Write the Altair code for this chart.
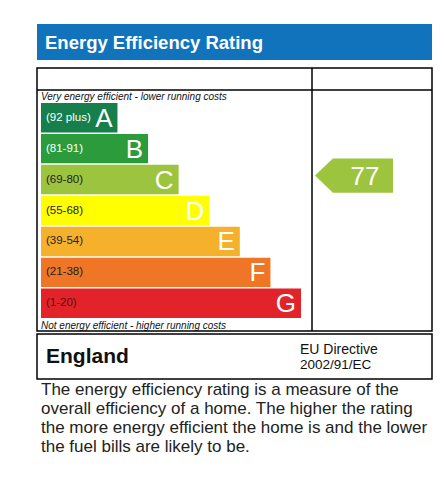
import altair as alt
import pandas as pd

# ---- data ----
ratings = ["A", "B", "C", "D", "E", "F", "G"]
ranges = ["(92 plus)", "(81-91)", "(69-80)", "(55-68)", "(39-54)", "(21-38)", "(1-20)"]
band_colors = ["#167f4c", "#2b9b3c", "#9cc43e", "#ffff00", "#f6b12c", "#ee7626", "#e2232a"]
label_colors = ["#ffffff", "#ffffff", "#222222", "#222222", "#222222", "#222222", "#5a1010"]
current_rating = 77
current_band = "C"

title = "Energy Efficiency Rating"
top_note = "Very energy efficient - lower running costs"
bottom_note = "Not energy efficient - higher running costs"
country = "England"
directive = ["EU Directive", "2002/91/EC"]
paragraph = [
    "The energy efficiency rating is a measure of the",
    "overall efficiency of a home. The higher the rating",
    "the more energy efficient the home is and the lower",
    "the fuel bills are likely to be.",
]

bars = pd.DataFrame({
    "band": ratings,
    "range": ranges,
    "color": band_colors,
    "lcolor": label_colors,
    "zero": [0] * len(ratings),
    "len": [i + 2.5 for i in range(len(ratings))],
})
cur = pd.DataFrame({"band": [current_band], "value": [current_rating]})

FONT = "Liberation Sans"
ysc = alt.Scale(domain=ratings, range=[103, 318], paddingInner=0.05, paddingOuter=0)
xsc = alt.Scale(domain=[0, 8.5], range=[41, 301])

one = pd.DataFrame({"k": [0]})
base = alt.Chart(one)

header = base.mark_rect(color="#1273bd").encode(
    x=alt.value(37), x2=alt.value(432), y=alt.value(24), y2=alt.value(60))
header_txt = base.mark_text(align="left", baseline="alphabetic", font=FONT, fontSize=18.5,
                            fontWeight="bold", color="white").encode(
    x=alt.value(45), y=alt.value(49), text=alt.value(title))

frame = base.mark_rect(fillOpacity=0, stroke="black", strokeWidth=1.5).encode(
    x=alt.value(37), x2=alt.value(432), y=alt.value(68), y2=alt.value(331))
vline = base.mark_rule(color="black", strokeWidth=1.5).encode(
    x=alt.value(312), y=alt.value(68), y2=alt.value(331))
hline = base.mark_rule(color="black", strokeWidth=1.5).encode(
    x=alt.value(37), x2=alt.value(432), y=alt.value(90))
ebox = base.mark_rect(fillOpacity=0, stroke="black", strokeWidth=1.5).encode(
    x=alt.value(37), x2=alt.value(432), y=alt.value(334), y2=alt.value(379))

top_txt = base.mark_text(align="left", baseline="alphabetic", font=FONT, fontSize=10,
                         fontStyle="italic", color="#111").encode(
    x=alt.value(41), y=alt.value(100), text=alt.value(top_note))
bot_txt = base.mark_text(align="left", baseline="alphabetic", font=FONT, fontSize=10,
                         fontStyle="italic", color="#111").encode(
    x=alt.value(41), y=alt.value(329), text=alt.value(bottom_note))

bar = alt.Chart(bars).mark_rect().encode(
    y=alt.Y("band:N", scale=ysc, axis=None),
    x=alt.X("zero:Q", scale=xsc, axis=None),
    x2="len:Q",
    color=alt.Color("color:N", scale=None),
)
rng = alt.Chart(bars).mark_text(align="left", baseline="middle", font=FONT, fontSize=11.5).encode(
    y=alt.Y("band:N", scale=ysc, axis=None),
    x=alt.value(46),
    text="range:N",
    color=alt.Color("lcolor:N", scale=None),
)
letters = alt.Chart(bars).mark_text(align="right", baseline="middle", font=FONT, fontSize=26,
                                    color="white", dx=-5, dy=1).encode(
    y=alt.Y("band:N", scale=ysc, axis=None),
    x=alt.X("len:Q", scale=xsc, axis=None),
    text="band:N",
)

arrow_path = "M -1 0 L -0.54 -0.44 L 1 -0.44 L 1 0.44 L -0.54 0.44 Z"
arrow = alt.Chart(cur).mark_point(shape=arrow_path, size=6084, filled=True, opacity=1,
                                  color="#9cc43e", strokeWidth=0, yOffset=-4).encode(
    y=alt.Y("band:N", scale=ysc, axis=None),
    x=alt.value(354),
)
arrow_txt = alt.Chart(cur).mark_text(align="center", baseline="middle", font=FONT, fontSize=26,
                                     color="white", yOffset=-3).encode(
    y=alt.Y("band:N", scale=ysc, axis=None),
    x=alt.value(365),
    text="value:Q",
)

eng = base.mark_text(align="left", baseline="alphabetic", font=FONT, fontSize=21,
                     fontWeight="bold", color="#111").encode(
    x=alt.value(46), y=alt.value(363), text=alt.value(country))
dir1 = base.mark_text(align="left", baseline="alphabetic", font=FONT, fontSize=14,
                      color="#111").encode(
    x=alt.value(300), y=alt.value(354), text=alt.value(directive[0]))
dir2 = base.mark_text(align="left", baseline="alphabetic", font=FONT, fontSize=13.5,
                      color="#111").encode(
    x=alt.value(300), y=alt.value(369), text=alt.value(directive[1]))

para_layers = []
for i, line in enumerate(paragraph):
    para_layers.append(base.mark_text(align="left", baseline="alphabetic", font=FONT,
                                      fontSize=17, color="#222").encode(
        x=alt.value(41), y=alt.value(395 + 19 * i), text=alt.value(line)))

chart = alt.layer(
    header, header_txt, bar, rng, letters, arrow, arrow_txt,
    frame, vline, hline, ebox, top_txt, bot_txt, eng, dir1, dir2, *para_layers
).properties(
    width=444, height=482, autosize=alt.AutoSizeParams(type="none"), padding=0,
    background="white"
).configure_view(stroke=None)

chart.save("out.html", embed_options={"renderer": "svg", "actions": False})
